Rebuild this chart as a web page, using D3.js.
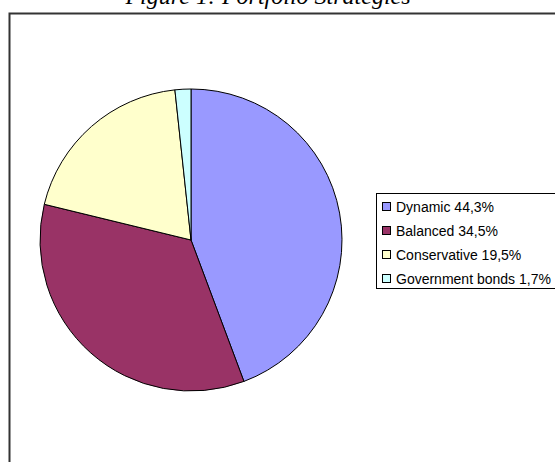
<!DOCTYPE html>
<html>
<head>
<meta charset="utf-8">
<script src="https://cdn.jsdelivr.net/npm/d3@7/dist/d3.min.js"></script>
<style>
  html, body { margin: 0; padding: 0; background: #fff; }
  svg { display: block; }
</style>
</head>
<body>
<svg id="chart" width="555" height="462"></svg>
<script>
// Portfolio strategy shares (percent)
const categories = ["Dynamic", "Balanced", "Conservative", "Government bonds"];
const shares = [44.3, 34.5, 19.5, 1.7];
const shareLabels = ["44,3%", "34,5%", "19,5%", "1,7%"];
const fills = ["#9999FF", "#993366", "#FFFFCC", "#CCFFFF"];

const svg = d3.select("#chart");

// Title, partly above the page edge
svg.append("text")
  .attr("x", 268)
  .attr("y", 4)
  .attr("text-anchor", "middle")
  .attr("font-family", "Liberation Serif, Times New Roman, serif")
  .attr("font-style", "italic")
  .attr("font-size", 24)
  .attr("fill", "#000")
  .text("Figure 1: Portfolio Strategies");

// Chart frame
svg.append("rect")
  .attr("x", 9.5)
  .attr("y", 13.5)
  .attr("width", 600)
  .attr("height", 500)
  .attr("fill", "#fff")
  .attr("stroke", "#333")
  .attr("stroke-width", 2);

// Pie
const cx = 191, cy = 240, r = 151;
const data = categories.map((c, i) => ({ name: c, value: shares[i], label: shareLabels[i], fill: fills[i] }));
const pie = d3.pie().sort(null).value(d => d.value);
const arc = d3.arc().innerRadius(0).outerRadius(r);

svg.append("g")
  .attr("transform", `translate(${cx},${cy})`)
  .selectAll("path")
  .data(pie(data))
  .join("path")
  .attr("d", arc)
  .attr("fill", d => d.data.fill)
  .attr("stroke", "#000")
  .attr("stroke-width", 1)
  .attr("stroke-linejoin", "round");

// Legend
const lg = svg.append("g");
lg.append("rect")
  .attr("x", 376.5)
  .attr("y", 193.5)
  .attr("width", 200)
  .attr("height", 95)
  .attr("fill", "#fff")
  .attr("stroke", "#000")
  .attr("stroke-width", 1);

const rowY = d3.scalePoint().domain(categories).range([207, 279]);
const items = lg.selectAll("g.item")
  .data(data)
  .join("g")
  .attr("class", "item")
  .attr("transform", d => `translate(0,${rowY(d.name)})`);

items.append("rect")
  .attr("x", 382.5)
  .attr("y", -4.5)
  .attr("width", 8)
  .attr("height", 8)
  .attr("fill", d => d.fill)
  .attr("stroke", "#000")
  .attr("stroke-width", 1);

items.append("text")
  .attr("x", 396)
  .attr("y", 0)
  .attr("dy", "0.36em")
  .attr("font-family", "Liberation Sans, Arial, sans-serif")
  .attr("font-size", 14)
  .attr("fill", "#000")
  .text(d => `${d.name} ${d.label}`);
</script>
</body>
</html>
